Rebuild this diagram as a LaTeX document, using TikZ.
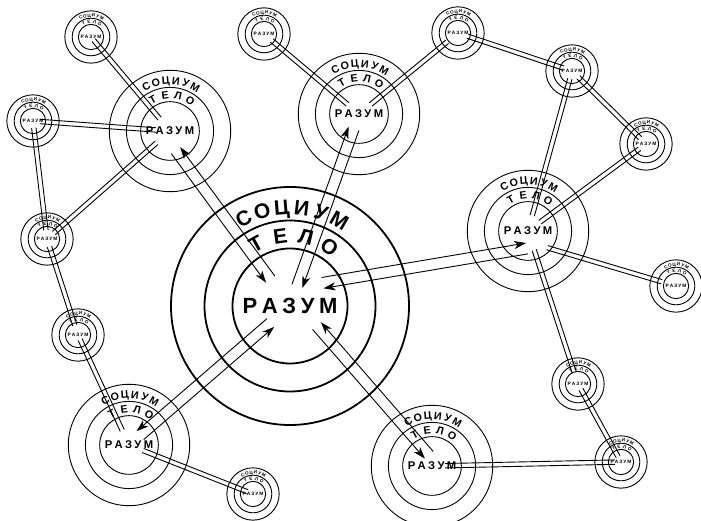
\documentclass[tikz,border=0pt]{standalone}
\usepackage{fontspec}
\setmainfont{Liberation Sans}
\usetikzlibrary{calc,arrows.meta}

\newcommand\ls{\kern0.21em}
% target: name, x, y, scale, circle line width
\newcommand\target[5]{%
  \begin{scope}[shift={(#2,#3)}, scale=#4,
      every node/.style={transform shape, inner sep=0pt, font=\fontsize{21}{21}\selectfont\bfseries}]
    \coordinate (#1) at (0,0);
    \draw[line width=#5] (0,0) circle[radius=119] (0,0) circle[radius=85.5] (0,0) circle[radius=57.5];
    \foreach \ch [count=\i from 0] in {С,О,Ц,И,У,М}
      \node[anchor=base, rotate={118-11.6*\i-90}] (#1-s\i) at ({118-11.6*\i}:91.5) {\ch};
    \foreach \ch [count=\i from 0] in {Т,Е,Л,О}
      \node[anchor=base, rotate={118.7-20.9*\i-90}] (#1-t\i) at ({118.7-20.9*\i}:63.5) {\ch};
    \node[font=\fontsize{22}{22}\selectfont\bfseries] (#1-r) at (0,0) {Р\ls А\ls З\ls У\ls М};
  \end{scope}}

\tikzset{
  conn/.style={line width=0.9pt},
  tip/.style={-{Stealth[length=12pt,width=8pt,inset=3.5pt]}}
}
% plain double connector: A, B, shorten at A, shorten at B
\newcommand\dbl[4]{%
  \draw[conn, shorten <=#3pt, shorten >=#4pt] ($(#1)!2.2pt!90:(#2)$) -- ($(#2)!2.2pt!-90:(#1)$);
  \draw[conn, shorten <=#3pt, shorten >=#4pt] ($(#1)!2.2pt!-90:(#2)$) -- ($(#2)!2.2pt!90:(#1)$);}
% two-way arrows, each arrow on the right of its travel direction
\newcommand\twowayR[4]{%
  \draw[conn, tip, shorten <=#3pt, shorten >=#4pt] ($(#1)!5.5pt!-90:(#2)$) -- ($(#2)!5.5pt!90:(#1)$);
  \draw[conn, tip, shorten <=#4pt, shorten >=#3pt] ($(#2)!5.5pt!-90:(#1)$) -- ($(#1)!5.5pt!90:(#2)$);}
% two-way arrows, each arrow on the left of its travel direction
\newcommand\twowayL[4]{%
  \draw[conn, tip, shorten <=#3pt, shorten >=#4pt] ($(#1)!5.5pt!90:(#2)$) -- ($(#2)!5.5pt!-90:(#1)$);
  \draw[conn, tip, shorten <=#4pt, shorten >=#3pt] ($(#2)!5.5pt!90:(#1)$) -- ($(#1)!5.5pt!-90:(#2)$);}

\begin{document}
\begin{tikzpicture}[x=1pt,y=1pt]
\useasboundingbox[fill=white] (0,0) rectangle (701,521);

% big centre
\target{C}{290}{215}{1}{1.8pt}
% medium
\target{M1}{170}{390}{0.51}{0.9pt}
\target{M2}{359}{407}{0.51}{0.9pt}
\target{M3}{528}{290}{0.51}{0.9pt}
\target{M4}{129}{76}{0.51}{0.9pt}
\target{M5}{432}{55}{0.51}{0.9pt}
% small
\target{a}{91}{484}{0.22}{0.9pt}
\target{b}{33}{400}{0.22}{0.9pt}
\target{c}{47}{282}{0.22}{0.9pt}
\target{d}{78}{186}{0.22}{0.9pt}
\target{e}{264}{487}{0.22}{0.9pt}
\target{f}{458}{488}{0.22}{0.9pt}
\target{g}{572}{450}{0.22}{0.9pt}
\target{h}{646}{377}{0.22}{0.9pt}
\target{i}{676}{235}{0.22}{0.9pt}
\target{j}{578}{137}{0.22}{0.9pt}
\target{k}{621}{59}{0.22}{0.9pt}
\target{l}{253}{27}{0.22}{0.9pt}

% aim points of some connectors
\coordinate (M1a) at (164.5,385.9);
\coordinate (C3) at (290,232.6);
\coordinate (M3c) at (528,272.7);
\coordinate (C5) at (295.4,219.7);
\coordinate (M5c) at (435.8,58.2);
\coordinate (M3i) at (528,279);

% arrows with the centre
\twowayR{M1a}{C}{19}{33}
\twowayL{M2}{C}{15.5}{21}
\twowayL{M3c}{C3}{1}{33}
\twowayR{M4}{C}{14.7}{25.7}
\twowayR{M5c}{C5}{10.3}{32.5}

% plain double connectors
\dbl{a}{M1}{4}{16}
\dbl{b}{M1}{7}{14}
\dbl{b}{c}{7}{9}
\dbl{c}{M1}{9}{18}
\dbl{c}{d}{8}{10}
\dbl{d}{M4}{5}{16}
\dbl{M4}{l}{15}{6}
\dbl{e}{M2}{10}{15}
\dbl{M2}{f}{15}{14}
\dbl{f}{g}{10}{9}
\dbl{g}{M3}{8}{16}
\dbl{g}{h}{9}{8}
\dbl{h}{M3}{8}{15}
\dbl{M3i}{i}{20}{15}
\dbl{M3}{j}{20}{12}
\dbl{j}{k}{6}{6}
\dbl{k}{M5}{6}{13}
\end{tikzpicture}
\end{document}
